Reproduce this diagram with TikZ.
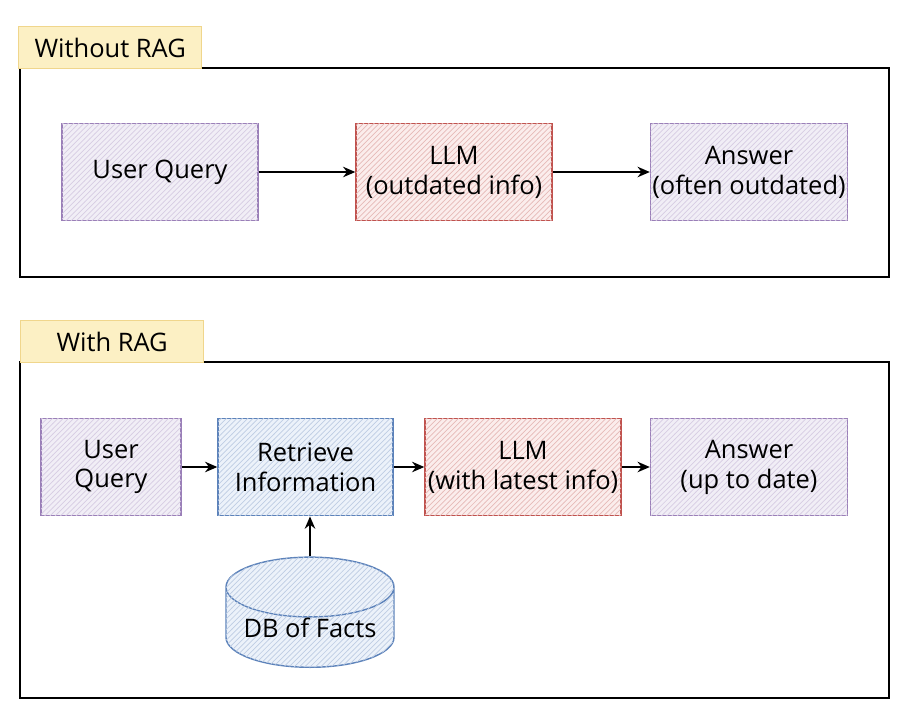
\documentclass[tikz,border=0pt]{standalone}
\usepackage{fontspec}
\setmainfont{Open Sans}
\usepackage{xcolor}
\usepackage{tikz}
\usetikzlibrary{shapes.geometric,arrows.meta,positioning,patterns}
\definecolor{ragviolet}{HTML}{9A7FB8}
\definecolor{ragvioletpale}{HTML}{F1EEF6}
\definecolor{ragrouge}{HTML}{C0524E}
\definecolor{ragrougepale}{HTML}{FBEDEC}
\definecolor{ragbleu}{HTML}{5C82BA}
\definecolor{ragbleupale}{HTML}{ECF2FA}
\definecolor{ragjaune}{HTML}{FCF0C4}
\definecolor{ragjaunebord}{HTML}{F0D68C}

\begin{document}
\begin{tikzpicture}[x=0.02cm, y=-0.02cm,
  every node/.style={font=\fontsize{14.5}{17}\selectfont, align=center, inner sep=0pt},
  boite/.style={draw=#1, fill=#1pale, line width=0.8pt, minimum height=1.95cm,
    postaction={pattern=north east lines, pattern color=#1!40}},
  tag/.style={draw=ragjaunebord, fill=ragjaune, line width=0.8pt, minimum height=0.84cm,
    minimum width=3.66cm, anchor=north west},
  cadre/.style={draw=black, line width=0.9pt},
  fleche/.style={-{Stealth[length=7pt,width=6pt]}, line width=0.9pt}]
  \useasboundingbox (0,0) rectangle (904,724);
  % sans RAG
  \draw[cadre] (20,68) rectangle (889,277);
  \node[tag] (tagsans) at (18,26) {Without RAG};
  \node[boite=ragviolet, minimum width=3.92cm] (query) at (160,172) {User Query};
  \node[boite=ragrouge, minimum width=3.92cm] (llm) at (454,172) {LLM\\(outdated info)};
  \node[boite=ragviolet, minimum width=3.94cm] (answer) at (749,172) {Answer\\(often outdated)};
  \draw[fleche] (query) -- (llm);
  \draw[fleche] (llm) -- (answer);
  % avec RAG
  \draw[cadre] (20,362) rectangle (889,698);
  \node[tag] (tagavec) at (20,320) {With RAG};
  \node[boite=ragviolet, minimum width=2.8cm] (ragquery) at (111,467) {User\\Query};
  \node[boite=ragbleu, minimum width=3.5cm] (retrieve) at (305.5,467) {Retrieve\\Information};
  \node[boite=ragrouge, minimum width=3.92cm] (ragllm) at (523,467) {LLM\\(with latest info)};
  \node[boite=ragviolet, minimum width=3.94cm] (raganswer) at (749,467) {Answer\\(up to date)};
  \node[cylinder, shape border rotate=90, aspect=0.45, draw=ragbleu, fill=ragbleupale,
    line width=0.8pt, minimum width=3.36cm, minimum height=1.64cm, anchor=bottom,
    postaction={pattern=north east lines, pattern color=ragbleu!40}] (db) at (310,668) {DB of Facts};
  \draw[fleche] (ragquery) -- (retrieve);
  \draw[fleche] (retrieve) -- (ragllm);
  \draw[fleche] (ragllm) -- (raganswer);
  \draw[fleche] (db.top) -- (db.top |- retrieve.south);
\end{tikzpicture}
\end{document}
